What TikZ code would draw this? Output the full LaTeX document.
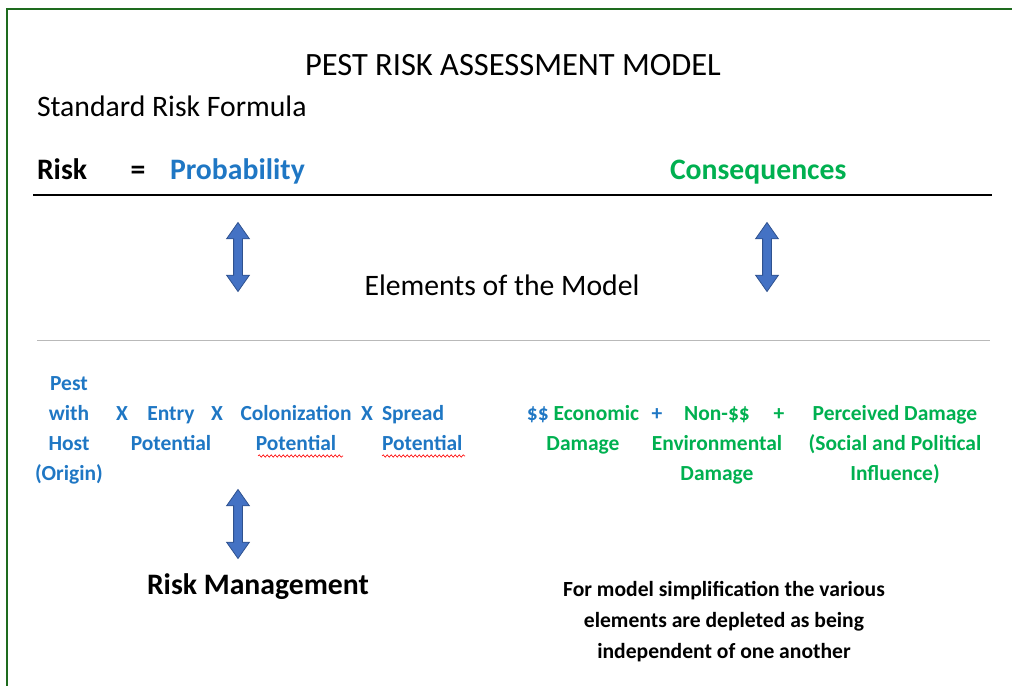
\documentclass[tikz,border=0pt]{standalone}
\usepackage{fontspec}
\setmainfont{Carlito}
\usetikzlibrary{shapes.arrows,decorations.pathmorphing}
\definecolor{frameGreen}{HTML}{1E6B1E}
\definecolor{probBlue}{HTML}{1F77C4}
\definecolor{consGreen}{HTML}{00B050}
\definecolor{arrowFill}{HTML}{4472C4}
\definecolor{arrowEdge}{HTML}{2F528F}

\begin{document}
\begin{tikzpicture}[x=1pt,y=1pt,
    txt/.style={inner sep=0pt,outer sep=0pt},
    plain/.style={txt,font=\fontsize{29.7}{34}\selectfont},
    heavy/.style={txt,font=\fontsize{29.7}{34}\selectfont\bfseries},
    elem/.style={txt,align=center,font=\fontsize{21.5}{30}\selectfont\bfseries},
    note/.style={txt,align=center,font=\fontsize{21.6}{31}\selectfont\bfseries},
    updown/.style={double arrow,rotate=90,fill=arrowFill,draw=arrowEdge,line width=0.8pt,
      minimum height=69pt,minimum width=22pt,inner sep=4pt,
      double arrow head extend=7pt,double arrow tip angle=70,double arrow head indent=0pt},
    squiggle/.style={red,line width=0.6pt,decorate,decoration={snake,amplitude=1.2pt,segment length=4pt}}]
  \useasboundingbox (0,0) rectangle (1012,-686);
  % frame
  \draw[frameGreen,line width=1.5pt] (1012,-9) -- (7,-9) -- (7,-686);

  \node[txt,anchor=base,font=\fontsize{32.5}{36}\selectfont] (title) at (513,-75) {PEST RISK ASSESSMENT MODEL};
  \node[plain,anchor=base west] (formula) at (37,-116) {Standard Risk Formula};

  % the formula
  \node[heavy,anchor=base west] (risk) at (37,-179) {Risk};
  \node[heavy,anchor=base] (equals) at (138,-179) {=};
  \node[heavy,anchor=base west,probBlue] (prob) at (170,-179) {Probability};
  \node[heavy,anchor=base west,consGreen] (cons) at (670,-179) {Consequences};
  \draw[line width=2.5pt] (33,-195) -- (992,-195);

  \node[updown] (probarrow) at (238,-257) {};
  \node[updown] (consarrow) at (767,-257) {};
  \node[plain,anchor=base] (elements) at (502,-295) {Elements of the Model};
  \draw[gray!55,line width=1pt] (37,-340) -- (990,-340);

  % probability elements (base = last line)
  \node[elem,anchor=base,probBlue] (pest) at (69,-480) {Pest\\with\\Host\\(Origin)};
  \node[elem,anchor=base,probBlue] (times1) at (122,-420) {X};
  \node[elem,anchor=base,probBlue] (entry) at (171,-450) {Entry\\Potential};
  \node[elem,anchor=base,probBlue] (times2) at (217,-420) {X};
  \node[elem,anchor=base,probBlue] (colon) at (296,-450) {Colonization\\Potential};
  \node[elem,anchor=base,probBlue] (times3) at (367,-420) {X};
  \node[elem,anchor=base west,align=left,probBlue] (spread) at (382,-450) {Spread\\Potential};
  \draw[squiggle] (258,-456) -- (343,-456);
  \draw[squiggle] (382,-456) -- (465,-456);

  % consequence elements
  \node[elem,anchor=base,consGreen] (econ) at (583,-450) {\textcolor{probBlue}{\$\$} Economic\\Damage};
  \node[elem,anchor=base,probBlue] (plus1) at (657,-420) {+};
  \node[elem,anchor=base,consGreen] (nonecon) at (717,-480) {Non-\$\$\\Environmental\\Damage};
  \node[elem,anchor=base,consGreen] (plus2) at (779,-420) {+};
  \node[elem,anchor=base,consGreen] (perceived) at (895,-480) {Perceived Damage\\(Social and Political\\Influence)};

  \node[updown] (mgmtarrow) at (238,-524) {};
  \node[heavy,anchor=base west] (mgmt) at (147,-594) {Risk Management};
  \node[note,anchor=base] (remark) at (724,-658) {For model simplification the various\\elements are depleted as being\\independent of one another};
\end{tikzpicture}
\end{document}
